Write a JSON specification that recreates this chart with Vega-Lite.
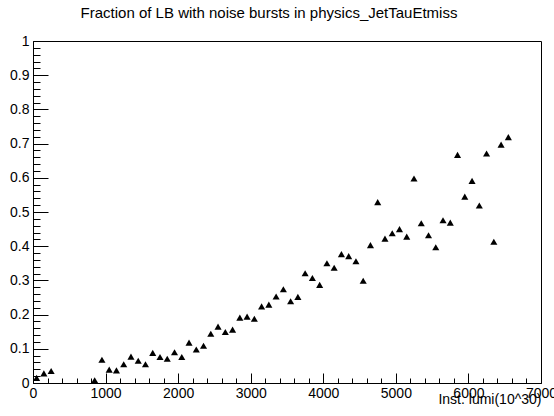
{
  "$schema": "https://vega.github.io/schema/vega-lite/v6.json",
  "autosize": {"type": "none"},
  "width": 508,
  "height": 342,
  "padding": {"left": 33, "top": 41, "right": 13, "bottom": 33},
  "background": "white",
  "config": {
    "font": "Liberation Sans",
    "view": {"stroke": "black", "strokeWidth": 1},
    "axis": {
      "domainColor": "black",
      "tickColor": "black",
      "labelColor": "black",
      "titleColor": "black",
      "labelFont": "Liberation Sans",
      "titleFont": "Liberation Sans",
      "labelFontSize": 14,
      "titleFontSize": 14,
      "titleFontWeight": "normal",
      "grid": false,
      "labelFlush": false,
      "labelOverlap": false
    }
  },
  "title": {
    "text": "Fraction of LB with noise bursts in physics_JetTauEtmiss",
    "font": "Liberation Sans",
    "fontSize": 15,
    "fontWeight": "normal",
    "color": "black",
    "anchor": "middle",
    "baseline": "alphabetic",
    "dx": -18,
    "offset": 1
  },
  "data": {
    "values": [
      {"x": 50, "y": 0.015}, {"x": 150, "y": 0.028}, {"x": 250, "y": 0.035},
      {"x": 850, "y": 0.008}, {"x": 950, "y": 0.068}, {"x": 1050, "y": 0.039},
      {"x": 1150, "y": 0.037}, {"x": 1250, "y": 0.055}, {"x": 1350, "y": 0.077},
      {"x": 1450, "y": 0.065}, {"x": 1550, "y": 0.055}, {"x": 1650, "y": 0.088},
      {"x": 1750, "y": 0.076}, {"x": 1850, "y": 0.071}, {"x": 1950, "y": 0.090},
      {"x": 2050, "y": 0.076}, {"x": 2150, "y": 0.118}, {"x": 2250, "y": 0.098},
      {"x": 2350, "y": 0.109}, {"x": 2450, "y": 0.144}, {"x": 2550, "y": 0.165},
      {"x": 2650, "y": 0.149}, {"x": 2750, "y": 0.156}, {"x": 2850, "y": 0.191},
      {"x": 2950, "y": 0.194}, {"x": 3050, "y": 0.188}, {"x": 3150, "y": 0.224},
      {"x": 3250, "y": 0.229}, {"x": 3350, "y": 0.253}, {"x": 3450, "y": 0.274},
      {"x": 3550, "y": 0.239}, {"x": 3650, "y": 0.252}, {"x": 3750, "y": 0.321},
      {"x": 3850, "y": 0.307}, {"x": 3950, "y": 0.287}, {"x": 4050, "y": 0.350},
      {"x": 4150, "y": 0.337}, {"x": 4250, "y": 0.377}, {"x": 4350, "y": 0.371},
      {"x": 4450, "y": 0.356}, {"x": 4550, "y": 0.299}, {"x": 4650, "y": 0.403},
      {"x": 4750, "y": 0.529}, {"x": 4850, "y": 0.422}, {"x": 4950, "y": 0.438},
      {"x": 5050, "y": 0.450}, {"x": 5150, "y": 0.428}, {"x": 5250, "y": 0.598},
      {"x": 5350, "y": 0.467}, {"x": 5450, "y": 0.432}, {"x": 5550, "y": 0.397},
      {"x": 5650, "y": 0.476}, {"x": 5750, "y": 0.469}, {"x": 5850, "y": 0.667},
      {"x": 5950, "y": 0.545}, {"x": 6050, "y": 0.591}, {"x": 6150, "y": 0.519},
      {"x": 6250, "y": 0.671}, {"x": 6350, "y": 0.413}, {"x": 6450, "y": 0.697},
      {"x": 6550, "y": 0.719}
    ]
  },
  "mark": {"type": "point", "shape": "triangle-up", "filled": true, "color": "black", "opacity": 1, "size": 50},
  "encoding": {
    "x": {
      "field": "x", "type": "quantitative",
      "scale": {"domain": [0, 7000], "nice": false, "zero": false},
      "axis": {
        "title": "Inst. lumi(10^30)",
        "values": [0,200,400,600,800,1000,1200,1400,1600,1800,2000,2200,2400,2600,2800,3000,3200,3400,3600,3800,4000,4200,4400,4600,4800,5000,5200,5400,5600,5800,6000,6200,6400,6600,6800,7000],
        "labelExpr": "datum.value % 1000 === 0 ? datum.label : ''",
        "format": "d",
        "tickSize": {"condition": {"test": "datum.value % 1000 === 0", "value": -10}, "value": -5},
        "labelPadding": 13,
        "titleAnchor": "end",
        "titleAlign": "right",
        "titleX": 508,
        "titleY": 20,
        "titleBaseline": "alphabetic"
      }
    },
    "y": {
      "field": "y", "type": "quantitative",
      "scale": {"domain": [0, 1], "nice": false, "zero": false},
      "axis": {
        "title": null,
        "values": [0,0.02,0.04,0.06,0.08,0.1,0.12,0.14,0.16,0.18,0.2,0.22,0.24,0.26,0.28,0.3,0.32,0.34,0.36,0.38,0.4,0.42,0.44,0.46,0.48,0.5,0.52,0.54,0.56,0.58,0.6,0.62,0.64,0.66,0.68,0.7,0.72,0.74,0.76,0.78,0.8,0.82,0.84,0.86,0.88,0.9,0.92,0.94,0.96,0.98,1],
        "labelExpr": "abs(datum.value*10 - round(datum.value*10)) < 1e-6 ? format(datum.value, '~g') : ''",
        "tickSize": {"condition": {"test": "abs(datum.value*10 - round(datum.value*10)) < 1e-6", "value": -15}, "value": -7},
        "labelPadding": 19
      }
    }
  }
}
